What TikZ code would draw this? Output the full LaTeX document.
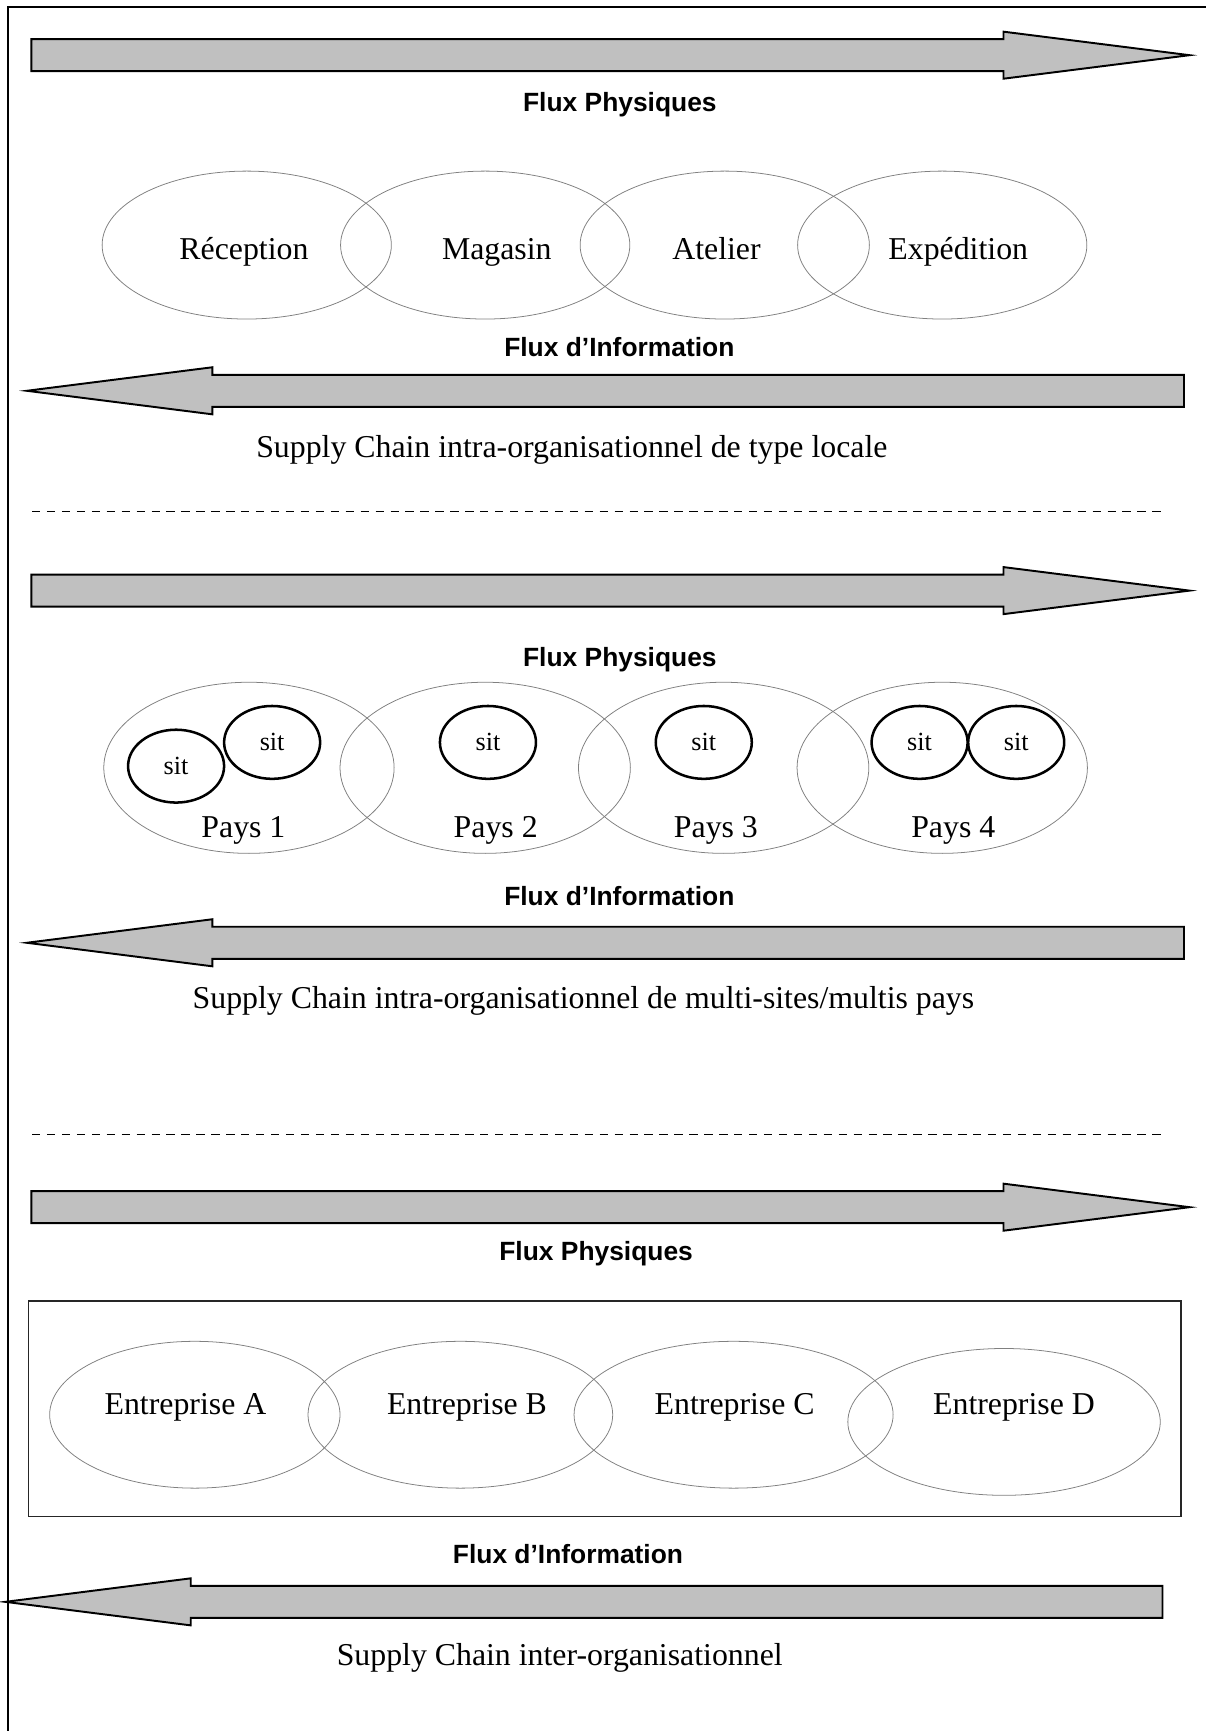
\documentclass[tikz,border=0pt]{standalone}
\usepackage{fontspec}
\setmainfont{Liberation Serif}
\setsansfont{Liberation Sans}
\usetikzlibrary{%
		shapes.geometric%
	}
\definecolor{fluxgray}{HTML}{C0C0C0}

\begin{document}
\begin{tikzpicture}[
		flux/.style={draw=black, fill=fluxgray, line width=1pt},
		zone/.style={draw=gray, line width=0.4pt},
		site/.style={ellipse, draw=black, line width=1.3pt, minimum width=1.74cm, minimum height=1.32cm, inner sep=0pt, font=\fontsize{13.5}{15}\selectfont},
		titre/.style={font=\sffamily\bfseries\fontsize{13.6}{16}\selectfont},
		nom/.style={anchor=base, font=\fontsize{16.4}{19}\selectfont},
		separation/.style={dash pattern=on 4.3pt off 3.4pt, line width=0.8pt}
	]
			\useasboundingbox (0,0) rectangle (21.84,-31.36);
			
			% Cadre
			\draw[line width=1pt] (0.144,-31.36) -- (0.144,-0.12) -- (21.84,-0.12);
			
			% Flux physiques
			\foreach \y in {-1.00, -10.70, -21.87}
				\draw[flux, shift={(0,\y)}] (0.57,0.29) -- (18.18,0.29) -- (18.18,0.426) -- (21.55,0) -- (18.18,-0.426) -- (18.18,-0.29) -- (0.57,-0.29) -- cycle;
			
			% Flux d'information
			\foreach \x/\y in {0/-7.08, 0/-17.08, -0.39/-29.02}
				\draw[flux, shift={(\x,\y)}] (21.45,0.29) -- (3.846,0.29) -- (3.846,0.426) -- (0.486,0) -- (3.846,-0.426) -- (3.846,-0.29) -- (21.45,-0.29) -- cycle;
			
			\node[titre] (physiques1) at (11.23,-1.90) {Flux Physiques};
			\node[titre] (information1) at (11.22,-6.28) {Flux d’Information};
			\node[titre] (physiques2) at (11.23,-11.95) {Flux Physiques};
			\node[titre] (information2) at (11.22,-16.24) {Flux d’Information};
			\node[titre] (physiques3) at (10.80,-22.72) {Flux Physiques};
			\node[titre] (information3) at (10.29,-28.16) {Flux d’Information};
			
			% Supply chain locale
			\foreach \x in {4.47, 8.79, 13.13, 17.07}
				\draw[zone] (\x,-4.44) ellipse [x radius=2.62cm, y radius=1.34cm];
			\node[nom] (reception) at (4.42,-4.71) {Réception};
			\node[nom] (magasin) at (9.00,-4.71) {Magasin};
			\node[nom] (atelier) at (12.98,-4.71) {Atelier};
			\node[nom] (expedition) at (17.36,-4.71) {Expédition};
			\node[nom] (locale) at (10.36,-8.29) {Supply Chain intra-organisationnel de type locale};
			
			\draw[separation] (0.58,-9.27) -- (21.04,-9.27);
			
			% Supply chain multi-sites
			\foreach \x in {4.51, 8.79, 13.11, 17.07}
				\draw[zone] (\x,-13.91) ellipse [x radius=2.63cm, y radius=1.55cm];
			\node[site] (sit1a) at (3.19,-13.88) {sit};
			\node[site] (sit1b) at (4.93,-13.45) {sit};
			\node[site] (sit2) at (8.84,-13.45) {sit};
			\node[site] (sit3) at (12.75,-13.45) {sit};
			\node[site] (sit4a) at (16.66,-13.45) {sit};
			\node[site] (sit4b) at (18.41,-13.45) {sit};
			\node[nom] (pays1) at (4.41,-15.18) {Pays 1};
			\node[nom] (pays2) at (8.98,-15.18) {Pays 2};
			\node[nom] (pays3) at (12.97,-15.18) {Pays 3};
			\node[nom] (pays4) at (17.27,-15.18) {Pays 4};
			\node[nom] (multi) at (10.57,-18.27) {Supply Chain intra-organisationnel de multi-sites/multis pays};
			
			\draw[separation] (0.58,-20.55) -- (21.04,-20.55);
			
			% Supply chain inter-organisationnel
			\draw[line width=0.8pt, draw=black!85] (0.52,-23.57) rectangle (21.40,-27.47);
			\foreach \x/\y/\r in {3.53/-25.63/2.63, 8.34/-25.63/2.76, 13.29/-25.63/2.89, 18.19/-25.76/2.83}
				\draw[zone] (\x,\y) ellipse [x radius=\r cm, y radius=1.33cm];
			\node[nom] (entA) at (3.36,-25.62) {Entreprise A};
			\node[nom] (entB) at (8.46,-25.62) {Entreprise B};
			\node[nom] (entC) at (13.31,-25.62) {Entreprise C};
			\node[nom] (entD) at (18.37,-25.62) {Entreprise D};
			\node[nom] (inter) at (10.14,-30.18) {Supply Chain inter-organisationnel};
		\end{tikzpicture}
\end{document}
